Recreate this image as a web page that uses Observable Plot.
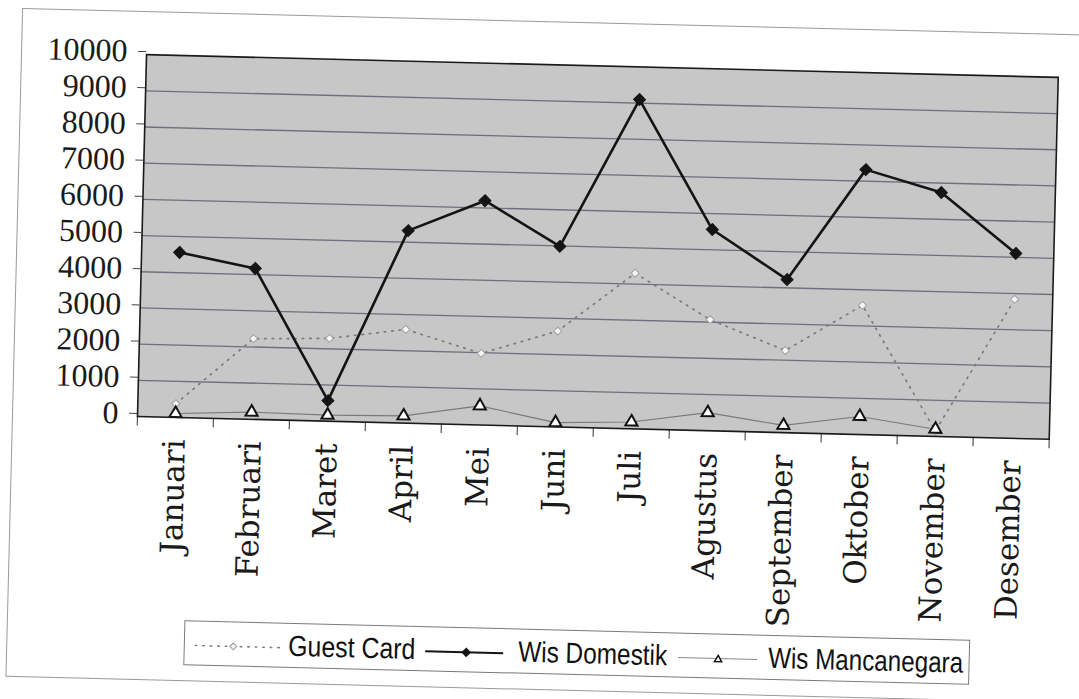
<!DOCTYPE html>
<html>
<head>
<meta charset="utf-8">
<script src="https://cdn.jsdelivr.net/npm/d3@7"></script>
<script src="https://cdn.jsdelivr.net/npm/@observablehq/plot@0.6"></script>
<style>
  html, body { margin: 0; padding: 0; background: #ffffff; overflow: hidden; width: 1079px; height: 699px; }
  #page { position: absolute; left: 0; top: 0; width: 1079px; height: 699px;
          transform: rotate(1.43deg); transform-origin: 137px 416px; }
  #frame { position: absolute; left: 12px; top: 11px; width: 1110px; height: 667px;
           border: 1px solid #9a9a9a; }
  #chart { position: absolute; left: 0; top: 0; }
  #legend { position: absolute; left: 0; top: 0; }
  #chart g[aria-label="x-axis tick label"] text { letter-spacing: 1.2px; }
</style>
</head>
<body>
<div id="page">
  <div id="frame"></div>
  <div id="chart"></div>
  <svg id="legend" width="1079" height="699"></svg>
</div>
<script>
// ---- data ----
const months = ["Januari","Februari","Maret","April","Mei","Juni","Juli","Agustus","September","Oktober","November","Desember"];
const guestCard      = [380, 2230, 2290, 2590, 1980, 2650, 4300, 3070, 2270, 3570, 150, 3840];
const wisDomestik    = [4560, 4170, 570, 5320, 6200, 4990, 9100, 5560, 4230, 7320, 6740, 5110];
const wisMancanegara = [110, 200, 170, 200, 530, 120, 190, 500, 200, 500, 200, null];
const seriesNames = ["Guest Card", "Wis Domestik", "Wis Mancanegara"];
const yTicks = [0, 1000, 2000, 3000, 4000, 5000, 6000, 7000, 8000, 9000, 10000];
const gridTicks = [1000, 2000, 3000, 4000, 5000, 6000, 7000, 8000, 9000];

const rows = [];
[guestCard, wisDomestik, wisMancanegara].forEach((vals, s) => {
  months.forEach((m, i) => rows.push({series: seriesNames[s], month: m, value: vals[i]}));
});
const gc = rows.filter(d => d.series === "Guest Card");
const dom = rows.filter(d => d.series === "Wis Domestik");
const man = rows.filter(d => d.series === "Wis Mancanegara");

const chart = Plot.plot({
  width: 1079,
  height: 606,
  marginLeft: 137,
  marginRight: 30,
  marginTop: 54,
  marginBottom: 190,
  style: {background: "transparent", overflow: "visible"},
  x: {type: "point", domain: months, padding: 0.5, label: null},
  y: {domain: [0, 10000], label: null},
  marks: [
    Plot.frame({fill: "#c7c7c7"}),
    Plot.ruleY(gridTicks, {stroke: "#5f5f70", strokeWidth: 1.3, strokeOpacity: 0.85}),
    // category boundary ticks below the axis
    Plot.ruleX(months, {x: d => d, dx: -38, y1: 0, y2: -260, stroke: "#555", strokeWidth: 1.2}),
    Plot.ruleX(months.slice(-1), {x: d => d, dx: 38, y1: 0, y2: -260, stroke: "#555", strokeWidth: 1.2}),
    // series
    Plot.line(gc, {x: "month", y: "value", stroke: "#7a7a7a", strokeWidth: 1.7, strokeDasharray: "1.5,6", strokeLinecap: "round"}),
    Plot.line(man, {x: "month", y: "value", stroke: "#7a7a7a", strokeWidth: 1.1}),
    Plot.line(dom, {x: "month", y: "value", stroke: "#141414", strokeWidth: 2.6}),
    Plot.dot(gc, {x: "month", y: "value", symbol: "diamond2", r: 3.6, fill: "#f6f6f6", stroke: "#a0a0a0", strokeWidth: 1}),
    Plot.dot(man, {x: "month", y: "value", symbol: "triangle", r: 4.5, fill: "#ffffff", stroke: "#111", strokeWidth: 2}),
    Plot.dot(dom, {x: "month", y: "value", symbol: "diamond2", r: 5.4, fill: "#141414", stroke: "#141414", strokeWidth: 1}),
    Plot.frame({stroke: "#1a1a1a", strokeWidth: 1.6}),
    Plot.axisY(yTicks, {tickSize: 8, tickPadding: 11, stroke: "#444", fill: "#1a1a1a", label: null,
      fontFamily: "Liberation Serif", fontSize: 32, dy: -3, tickFormat: d => String(d)}),
    Plot.axisX({tickSize: 0, tickRotate: -90, tickPadding: 22, fill: "#1a1a1a", label: null,
      fontFamily: "DejaVu Serif", fontSize: 31, ariaLabel: "x-axis tick label"})
  ]
});
document.getElementById("chart").append(chart);

// ---- legend ----
const lg = d3.select("#legend");
lg.append("rect").attr("x", 190).attr("y", 619.5).attr("width", 785).attr("height", 44)
  .attr("fill", "none").attr("stroke", "#7a7a7a").attr("stroke-width", 1);
const ly = 644, by = 652;
const font = "'Liberation Sans Narrow','Liberation Sans',sans-serif";
// Guest Card
lg.append("line").attr("x1", 201).attr("x2", 286).attr("y1", ly).attr("y2", ly)
  .attr("stroke", "#808080").attr("stroke-width", 1.6).attr("stroke-dasharray", "1.5,6").attr("stroke-linecap", "round");
lg.append("path").attr("transform", `translate(239,${ly})`).attr("d", d3.symbol(d3.symbolDiamond2, 30)())
  .attr("fill", "#f4f4f4").attr("stroke", "#9a9a9a");
lg.append("text").attr("x", 294).attr("y", by).attr("font-family", font).attr("font-size", 29)
  .attr("textLength", 127).attr("lengthAdjust", "spacingAndGlyphs").attr("fill", "#111").text(seriesNames[0]);
// Wis Domestik
lg.append("line").attr("x1", 431).attr("x2", 509).attr("y1", ly).attr("y2", ly)
  .attr("stroke", "#141414").attr("stroke-width", 2);
lg.append("path").attr("transform", `translate(472,${ly})`).attr("d", d3.symbol(d3.symbolDiamond2, 60)())
  .attr("fill", "#141414");
lg.append("text").attr("x", 524).attr("y", by).attr("font-family", font).attr("font-size", 29)
  .attr("textLength", 149).attr("lengthAdjust", "spacingAndGlyphs").attr("fill", "#111").text(seriesNames[1]);
// Wis Mancanegara
lg.append("line").attr("x1", 684).attr("x2", 763).attr("y1", ly).attr("y2", ly)
  .attr("stroke", "#888").attr("stroke-width", 1);
lg.append("path").attr("transform", `translate(724,${ly + 1})`).attr("d", d3.symbol(d3.symbolTriangle, 22)())
  .attr("fill", "#fff").attr("stroke", "#111").attr("stroke-width", 1.5);
lg.append("text").attr("x", 774).attr("y", by).attr("font-family", font).attr("font-size", 29)
  .attr("textLength", 195).attr("lengthAdjust", "spacingAndGlyphs").attr("fill", "#111").text(seriesNames[2]);
</script>
</body>
</html>
